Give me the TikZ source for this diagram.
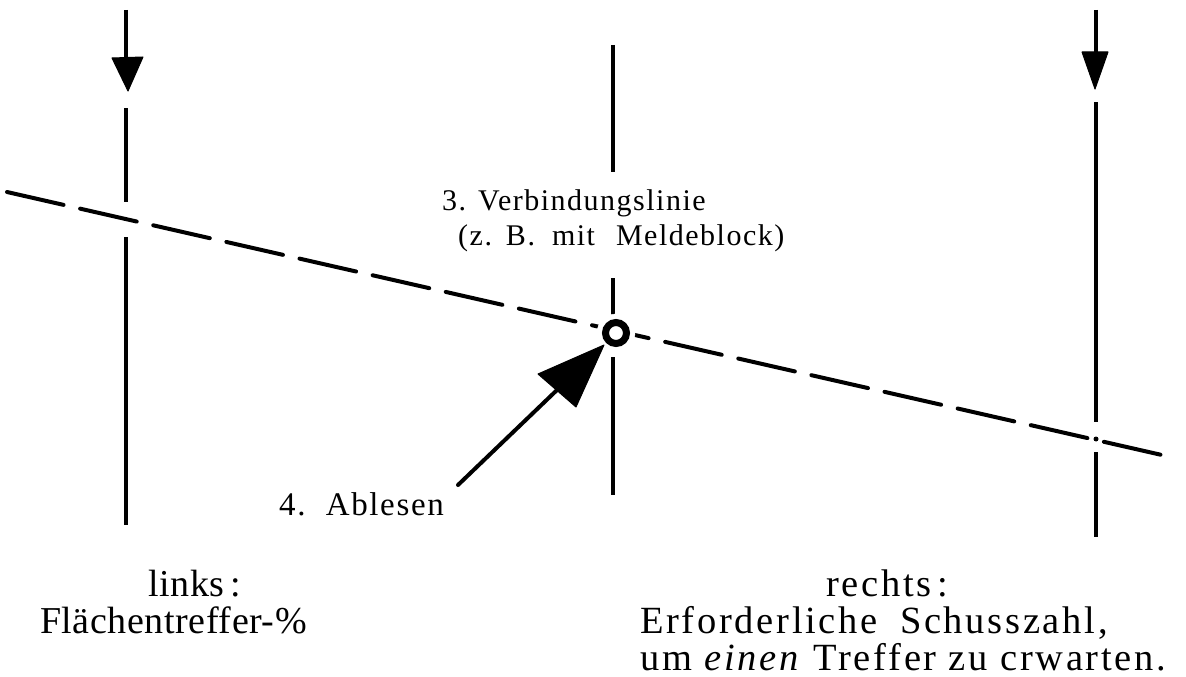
\documentclass[tikz,border=0pt]{standalone}
\usepackage{fontspec}
\setmainfont{Liberation Serif}
\newfontfamily\labfont[LetterSpace=5]{Liberation Serif}
\newfontfamily\leftfont[LetterSpace=1.5]{Liberation Serif}
\newfontfamily\rightfont[LetterSpace=7]{Liberation Serif}
\begin{document}
\begin{tikzpicture}[x=1pt,y=-1pt,
  axis/.style={line width=3.6pt},
  conn/.style={line width=4pt, dash pattern=on 58pt off 17pt, line cap=round},
  headfill/.style={fill=black, draw=black, line width=1pt, line join=round},
  smalltxt/.style={anchor=base west, inner sep=0pt, font=\labfont\fontsize{30}{33}\selectfont},
  lefttxt/.style={anchor=base west, inner sep=0pt, font=\leftfont\fontsize{38}{40}\selectfont},
  righttxt/.style={anchor=base west, inner sep=0pt, font=\rightfont\fontsize{38.5}{40}\selectfont}]
\useasboundingbox (0,0) rectangle (1186,677);
% coordinates
\coordinate (Ltop) at (126,10);
\coordinate (Lah) at (126,58);
\coordinate (Ltip) at (128,91);
\coordinate (Lb1) at (126,108);
\coordinate (Lb2) at (126,202);
\coordinate (Lc1) at (126,237);
\coordinate (Lend) at (126,525);
\coordinate (Rtop) at (1096,10);
\coordinate (Rah) at (1096,52);
\coordinate (Rtip) at (1095,89);
\coordinate (Rb1) at (1096,102);
\coordinate (Rb2) at (1096,422);
\coordinate (Rc1) at (1096,452);
\coordinate (Rend) at (1096,537);
\coordinate (Mtop) at (613,45);
\coordinate (Ma) at (613,172);
\coordinate (Mb) at (613,278);
\coordinate (Mc) at (613,315);
\coordinate (Md) at (613,357);
\coordinate (Mend) at (613,495);
\coordinate (Dstart) at (7,192);
\coordinate (Dend) at (1175,458);
\coordinate (Astart) at (458,485);
\coordinate (Abase) at (557,390);
% left axis
\draw[axis] (Ltop) -- (Lah);
\fill[headfill] (112,58) -- (143,57) -- (Ltip) -- cycle;
\draw[axis] (Lb1) -- (Lb2);
\draw[axis] (Lc1) -- (Lend);
% right axis
\draw[axis] (Rtop) -- (Rah);
\fill[headfill] (1082,52) -- (1108,52) -- (Rtip) -- cycle;
\draw[axis] (Rb1) -- (Rb2);
\fill (1096,439) circle (2.5pt);
\draw[axis] (Rc1) -- (Rend);
% middle axis
\draw[axis] (Mtop) -- (Ma);
\draw[axis] (Mb) -- (Mc);
\draw[axis] (Md) -- (Mend);
% connecting line
\draw[conn] (Dstart) -- (Dend);
% reading point
\node[circle, draw=white, fill=white, minimum size=38pt, inner sep=0pt] (P) at (616,333) {};
\draw[line width=7pt] (P.center) circle (10.5pt);
% reading arrow
\draw[line width=4pt, line cap=round] (Astart) -- (Abase);
\fill[headfill] (538,374) -- (604,345) -- (576,407) -- cycle;
% texts
\node[smalltxt] (t3a) at (442,210) {3. Verbindungslinie};
\node[smalltxt] (t3b) at (458,245) {(z.\hspace{2pt} B.\hspace{8pt} mit\hspace{12pt} Meldeblock)};
\node[smalltxt, font=\labfont\fontsize{33}{36}\selectfont] (t4) at (279,515) {4.\hspace{7pt} Ablesen};
\node[lefttxt] (tl1) at (148,596) {links\hspace{6pt}:};
\node[lefttxt] (tl2) at (40,633) {Flächentreffer-\%};
\node[righttxt] (tr1) at (826,596) {rechts\hspace{6pt}:};
\node[righttxt] (tr2) at (640,633) {Erforderliche\hspace{10pt} Schusszahl,};
\node[righttxt] (tr3) at (640,670) {um \textit{einen} Treffer zu crwarten.};
\end{tikzpicture}
\end{document}
